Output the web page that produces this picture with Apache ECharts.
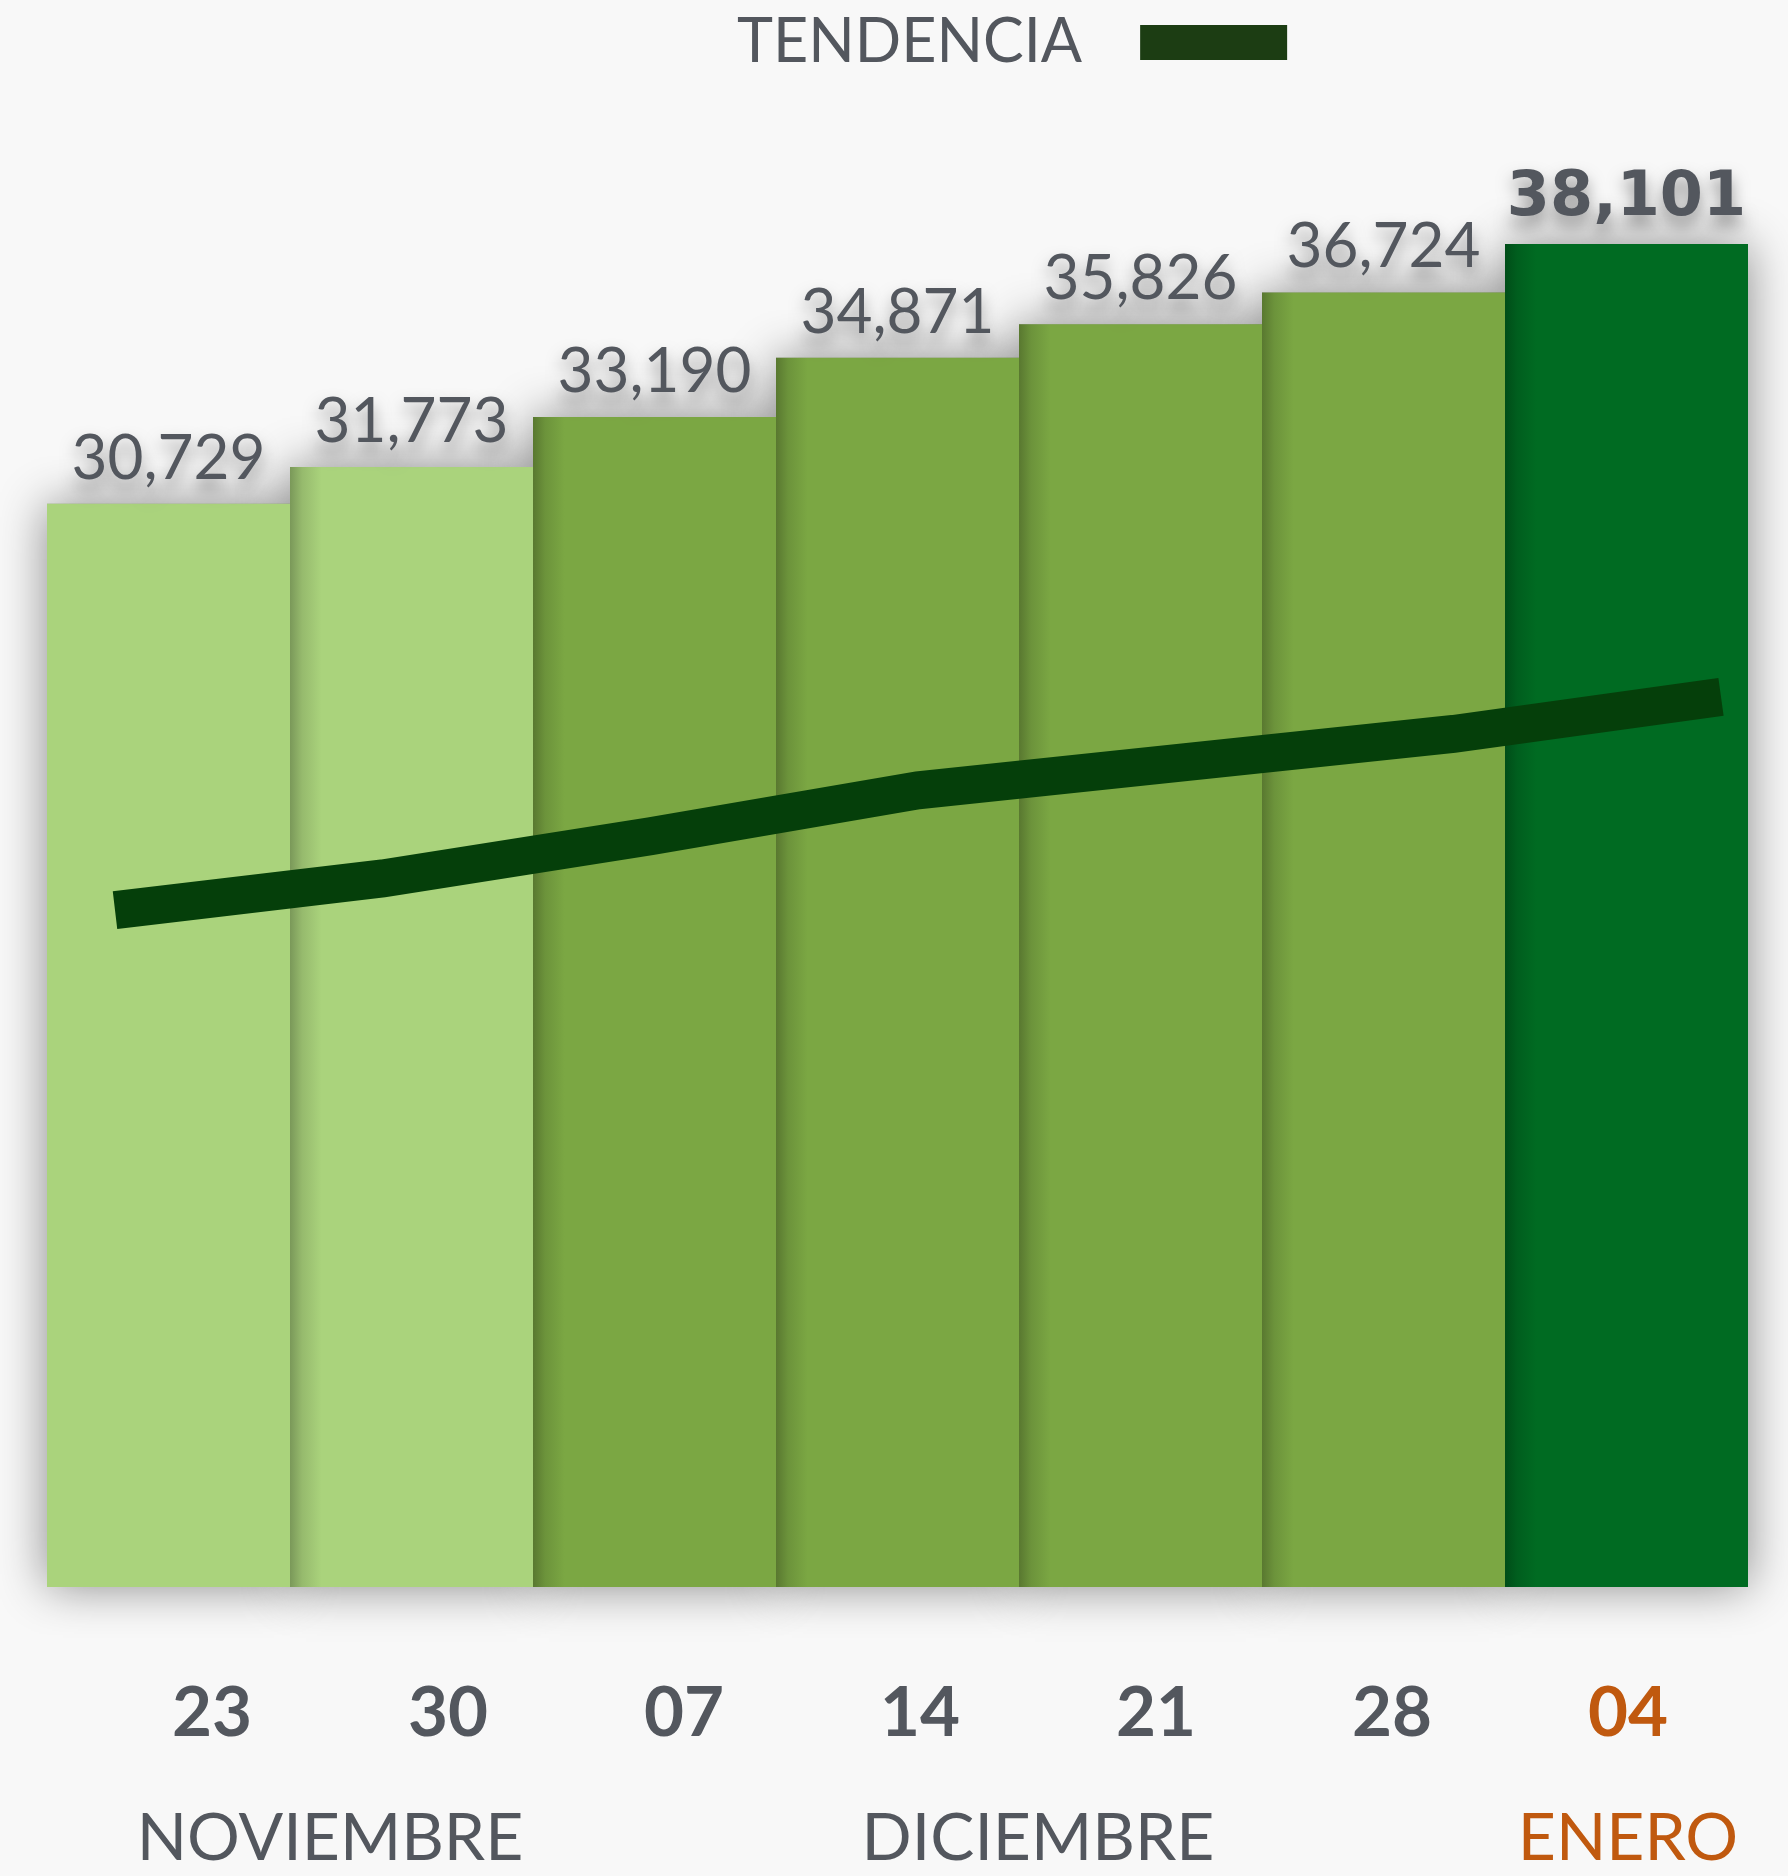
<!DOCTYPE html>
<html>
<head>
<meta charset="utf-8">
<script src="https://cdn.jsdelivr.net/npm/echarts@6/dist/echarts.min.js"></script>
<style>
  html, body { margin: 0; padding: 0; background: #f8f8f8; }
  #chart { width: 1788px; height: 1876px; }
</style>
</head>
<body>
<div id="chart"></div>
<script>
// semanas (fecha de corte) y su mes
const days = ['23', '30', '07', '14', '21', '28', '04']
const months = ['NOVIEMBRE', 'NOVIEMBRE', 'DICIEMBRE', 'DICIEMBRE', 'DICIEMBRE', 'DICIEMBRE', 'ENERO']
const totals = [30729, 31773, 33190, 34871, 35826, 36724, 38101]
const trend = [19200, 20100, 21300, 22600, 23400, 24200, 25250]

const barColors = ['#aad37c', '#aad37c', '#7ba743', '#7ba743', '#7ba743', '#7ba743', '#006b22']
const gray = '#53575e'
const orange = '#c0590f'
const last = days.length - 1

const darken = (hex, k) => {
  const n = parseInt(hex.slice(1), 16)
  const r = Math.round(((n >> 16) & 255) * k)
  const g = Math.round(((n >> 8) & 255) * k)
  const b = Math.round((n & 255) * k)
  return `rgb(${r},${g},${b})`
}

// centro de cada mes en el eje de dias
const monthCenters = {}
months.forEach((m, i) => {
  if (!monthCenters[m]) monthCenters[m] = { first: i, last: i }
  monthCenters[m].last = i
})
const monthAt = (v) => {
  for (const m in monthCenters) {
    const c = (monthCenters[m].first + monthCenters[m].last) / 2
    if (Math.abs(c - v) < 0.01) return m
  }
  return ''
}

const barData = totals.map((v, i) => ({
  value: v,
  itemStyle: {
    color: i === 0 ? barColors[i] : new echarts.graphic.LinearGradient(0, 0, 1, 0, [
      { offset: 0, color: darken(barColors[i], 0.72) },
      { offset: 0.05, color: darken(barColors[i], 0.88) },
      { offset: 0.13, color: barColors[i] },
      { offset: 1, color: barColors[i] },
    ]),
  },
  label: i === last
    ? { fontFamily: 'DejaVu Sans', fontWeight: 'bold', fontSize: 62, lineHeight: 62 }
    : {},
}))

const chart = echarts.init(document.getElementById('chart'))

const gridTop = 177
const gridBottom = 289

chart.setOption({
  animation: false,
  backgroundColor: '#f8f8f8',
  textStyle: { fontFamily: 'Lato' },
  legend: {
    data: ['TENDENCIA'],
    left: 732,
    top: 7,
    align: 'right',
    icon: 'rect',
    itemWidth: 147,
    itemHeight: 35,
    itemStyle: { color: '#1c3d13' },
    textStyle: { fontSize: 61, lineHeight: 61, color: gray, padding: [0, 53, 0, 0] },
  },
  grid: [
    { left: 47, right: 40, top: gridTop, bottom: gridBottom },
    { left: 115, right: 67, top: gridTop, bottom: gridBottom },
    { left: 212, right: 160, top: gridTop, bottom: gridBottom },
    { left: 212, right: 160, top: gridTop, bottom: gridBottom },
  ],
  xAxis: [
    { gridIndex: 0, type: 'category', data: days, show: false },
    { gridIndex: 1, type: 'category', data: days, boundaryGap: false, show: false },
    {
      gridIndex: 2,
      type: 'category',
      data: days,
      boundaryGap: false,
      axisLine: { show: false },
      axisTick: { show: false },
      axisLabel: {
        margin: 92,
        interval: 0,
        fontSize: 69,
        lineHeight: 70,
        fontWeight: 'bold',
        color: (v, i) => (i === last ? orange : gray),
      },
    },
    {
      gridIndex: 3,
      type: 'value',
      min: 0,
      max: last,
      interval: 0.5,
      splitLine: { show: false },
      axisLine: { show: false },
      axisTick: { show: false },
      axisLabel: {
        margin: 219,
        fontSize: 66,
        lineHeight: 66,
        showMinLabel: true,
        showMaxLabel: true,
        formatter: (v) => monthAt(v),
        color: (v) => (monthAt(v) === months[last] ? orange : gray),
      },
    },
  ],
  yAxis: [
    { gridIndex: 0, type: 'value', min: 0, max: 40000, show: false },
    { gridIndex: 1, type: 'value', min: 0, max: 40000, show: false },
    { gridIndex: 2, type: 'value', show: false },
    { gridIndex: 3, type: 'value', show: false },
  ],
  series: [
    {
      name: 'sombra',
      type: 'bar',
      xAxisIndex: 0,
      yAxisIndex: 0,
      data: totals,
      barCategoryGap: 0,
      barGap: '-100%',
      z: 1,
      silent: true,
      itemStyle: {
        color: '#9a9a9a',
        shadowBlur: 45,
        shadowColor: 'rgba(0,0,0,0.45)',
      },
    },
    {
      name: 'total',
      type: 'bar',
      xAxisIndex: 0,
      yAxisIndex: 0,
      data: barData,
      barCategoryGap: 0,
      barGap: '-100%',
      z: 2,
      label: {
        show: true,
        position: 'top',
        distance: 14,
        fontSize: 62,
        lineHeight: 62,
        color: gray,
        formatter: (p) => p.value.toLocaleString('en-US'),
        textShadowColor: 'rgba(0,0,0,0.4)',
        textShadowBlur: 16,
        textShadowOffsetY: 10,
      },
    },
    {
      name: 'TENDENCIA',
      type: 'line',
      xAxisIndex: 1,
      yAxisIndex: 1,
      data: trend,
      z: 5,
      symbol: 'none',
      lineStyle: { color: '#053f0a', width: 38, cap: 'butt', join: 'miter' },
      itemStyle: { color: '#1c3d13' },
    },
  ],
})
</script>
</body>
</html>
